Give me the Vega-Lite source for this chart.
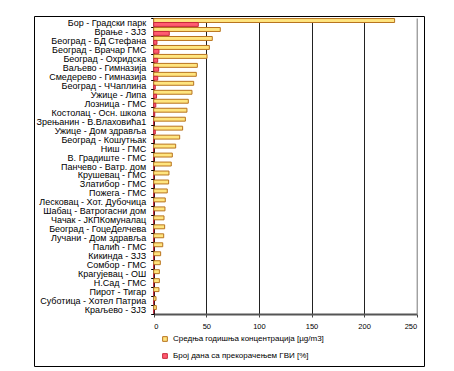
{
  "$schema": "https://vega.github.io/schema/vega-lite/v6.json",
  "autosize": "none",
  "width": 390,
  "height": 350,
  "padding": {"left": 34, "top": 16, "right": 30, "bottom": 5},
  "background": "white",
  "config": {
    "view": {"stroke": "black", "strokeWidth": 1},
    "font": "Liberation Sans"
  },
  "data": {"values": [
    {"s": "Бор - Градски парк", "k": "c", "v": 229},
    {"s": "Бор - Градски парк", "k": "d", "v": 42.4},
    {"s": "Врање - ЗЈЗ", "k": "c", "v": 63.3},
    {"s": "Врање - ЗЈЗ", "k": "d", "v": 14.8},
    {"s": "Београд - БД Стефана", "k": "c", "v": 55.7},
    {"s": "Београд - БД Стефана", "k": "d", "v": 3.1},
    {"s": "Београд - Врачар ГМС", "k": "c", "v": 52.9},
    {"s": "Београд - Врачар ГМС", "k": "d", "v": 5},
    {"s": "Београд - Охридска", "k": "c", "v": 50.7},
    {"s": "Београд - Охридска", "k": "d", "v": 3.8},
    {"s": "Ваљево - Гимназија", "k": "c", "v": 41.5},
    {"s": "Ваљево - Гимназија", "k": "d", "v": 4.7},
    {"s": "Смедерево - Гимназија", "k": "c", "v": 40.5},
    {"s": "Смедерево - Гимназија", "k": "d", "v": 3.8},
    {"s": "Београд - ЧЧаплина", "k": "c", "v": 38},
    {"s": "Београд - ЧЧаплина", "k": "d", "v": 1.5},
    {"s": "Ужице - Липа", "k": "c", "v": 36.4},
    {"s": "Ужице - Липа", "k": "d", "v": 2.7},
    {"s": "Лозница - ГМС", "k": "c", "v": 32.9},
    {"s": "Лозница - ГМС", "k": "d", "v": 2},
    {"s": "Костолац - Осн. школа", "k": "c", "v": 31.6},
    {"s": "Костолац - Осн. школа", "k": "d", "v": 1},
    {"s": "Зрењанин - В.Влаховића1", "k": "c", "v": 30.1},
    {"s": "Зрењанин - В.Влаховића1", "k": "d", "v": 0},
    {"s": "Ужице - Дом здравља", "k": "c", "v": 27.5},
    {"s": "Ужице - Дом здравља", "k": "d", "v": 1.5},
    {"s": "Београд - Кошутњак", "k": "c", "v": 24.7},
    {"s": "Београд - Кошутњак", "k": "d", "v": 0},
    {"s": "Ниш - ГМС", "k": "c", "v": 20.9},
    {"s": "Ниш - ГМС", "k": "d", "v": 0},
    {"s": "В. Градиште - ГМС", "k": "c", "v": 17.7},
    {"s": "В. Градиште - ГМС", "k": "d", "v": 0},
    {"s": "Панчево - Ватр. дом", "k": "c", "v": 16.7},
    {"s": "Панчево - Ватр. дом", "k": "d", "v": 0},
    {"s": "Крушевац - ГМС", "k": "c", "v": 14.5},
    {"s": "Крушевац - ГМС", "k": "d", "v": 0},
    {"s": "Златибор - ГМС", "k": "c", "v": 14.2},
    {"s": "Златибор - ГМС", "k": "d", "v": 0},
    {"s": "Пожега - ГМС", "k": "c", "v": 12.9},
    {"s": "Пожега - ГМС", "k": "d", "v": 0},
    {"s": "Лесковац - Хот. Дубочица", "k": "c", "v": 11},
    {"s": "Лесковац - Хот. Дубочица", "k": "d", "v": 0},
    {"s": "Шабац - Ватрогасни дом", "k": "c", "v": 10.7},
    {"s": "Шабац - Ватрогасни дом", "k": "d", "v": 0},
    {"s": "Чачак - ЈКПКомуналац", "k": "c", "v": 9.8},
    {"s": "Чачак - ЈКПКомуналац", "k": "d", "v": 0},
    {"s": "Београд - ГоцеДелчева", "k": "c", "v": 10.4},
    {"s": "Београд - ГоцеДелчева", "k": "d", "v": 0},
    {"s": "Лучани - Дом здравља", "k": "c", "v": 9.5},
    {"s": "Лучани - Дом здравља", "k": "d", "v": 0},
    {"s": "Палић - ГМС", "k": "c", "v": 8.6},
    {"s": "Палић - ГМС", "k": "d", "v": 0},
    {"s": "Кикинда - ЗЈЗ", "k": "c", "v": 6.6},
    {"s": "Кикинда - ЗЈЗ", "k": "d", "v": 0},
    {"s": "Сомбор - ГМС", "k": "c", "v": 6.3},
    {"s": "Сомбор - ГМС", "k": "d", "v": 0},
    {"s": "Крагујевац - ОШ", "k": "c", "v": 5.4},
    {"s": "Крагујевац - ОШ", "k": "d", "v": 0},
    {"s": "Н.Сад - ГМС", "k": "c", "v": 5.4},
    {"s": "Н.Сад - ГМС", "k": "d", "v": 0},
    {"s": "Пирот - Тигар", "k": "c", "v": 5},
    {"s": "Пирот - Тигар", "k": "d", "v": 0},
    {"s": "Суботица - Хотел Патриа", "k": "c", "v": 2.2},
    {"s": "Суботица - Хотел Патриа", "k": "d", "v": 0},
    {"s": "Краљево - ЗЈЗ", "k": "c", "v": 2.5},
    {"s": "Краљево - ЗЈЗ", "k": "d", "v": 0}
  ]},
  "transform": [
    {"calculate": "datum.k === 'c' ? 'Средња годишња концентрација [µg/m3]' : 'Број дана са прекорачењем ГВИ [%]'", "as": "serija"}
  ],
  "resolve": {"axis": {"y": "independent", "x": "independent"}},
  "layer": [
    {
      "mark": {"type": "bar", "opacity": 0},
      "encoding": {
        "y": {
          "field": "s", "type": "nominal", "sort": null,
          "axis": {
            "title": null, "orient": "right", "offset": -7.3, "labels": false, "ticks": false,
            "domainColor": "#777", "domainWidth": 1, "grid": false
          }
        },
        "x": {
          "field": "v", "type": "quantitative",
          "axis": {
            "title": null, "orient": "top", "offset": 0, "values": [50, 100, 150, 200],
            "labels": false, "ticks": false, "domain": false,
            "grid": true, "gridColor": "#222", "gridWidth": 1, "gridOpacity": 1
          }
        }
      }
    },
    {
      "mark": {"type": "bar", "strokeWidth": 1},
      "encoding": {
        "y": {
          "field": "s", "type": "nominal", "sort": null,
          "scale": {"range": [2, 298], "paddingInner": 0.08, "paddingOuter": 0.04},
          "axis": {
            "title": null, "orient": "left", "offset": -119.7, "labelFontSize": 9, "labelColor": "black",
            "labelLimit": 200, "labelPadding": 5, "tickBand": "extent", "tickSize": 3,
            "tickColor": "black", "domainColor": "black", "domainWidth": 1.5, "grid": false
          }
        },
        "yOffset": {
          "field": "serija", "type": "nominal",
          "sort": ["Средња годишња концентрација [µg/m3]", "Број дана са прекорачењем ГВИ [%]"],
          "scale": {"paddingInner": 0, "paddingOuter": 0.05}
        },
        "x": {
          "field": "v", "type": "quantitative",
          "scale": {"domain": [0, 250], "range": [119.7, 382.7], "nice": false},
          "axis": {
            "title": null, "orient": "bottom", "offset": -52, "values": [0, 50, 100, 150, 200, 250],
            "labelFontSize": 7.5, "labelColor": "black", "labelPadding": 5, "tickSize": 3,
            "tickColor": "#444", "domainColor": "#555", "domainWidth": 2,
            "grid": false
          }
        },
        "fill": {
          "field": "serija", "type": "nominal",
          "scale": {"domain": ["Средња годишња концентрација [µg/m3]", "Број дана са прекорачењем ГВИ [%]"], "range": ["#FFE57F", "#FF5C70"]},
          "legend": {
            "title": null, "orient": "none", "legendX": 127, "legendY": 319,
            "direction": "vertical", "symbolType": "square", "symbolSize": 22,
            "labelFontSize": 8, "labelColor": "black", "rowPadding": 7, "symbolStrokeWidth": 1
          }
        },
        "stroke": {
          "field": "serija", "type": "nominal",
          "scale": {"domain": ["Средња годишња концентрација [µg/m3]", "Број дана са прекорачењем ГВИ [%]"], "range": ["#B8731E", "#C8283C"]},
          "legend": {
            "title": null, "orient": "none", "legendX": 127, "legendY": 319,
            "direction": "vertical", "symbolType": "square", "symbolSize": 22,
            "labelFontSize": 8, "labelColor": "black", "rowPadding": 7, "symbolStrokeWidth": 1
          }
        }
      }
    }
  ]
}
